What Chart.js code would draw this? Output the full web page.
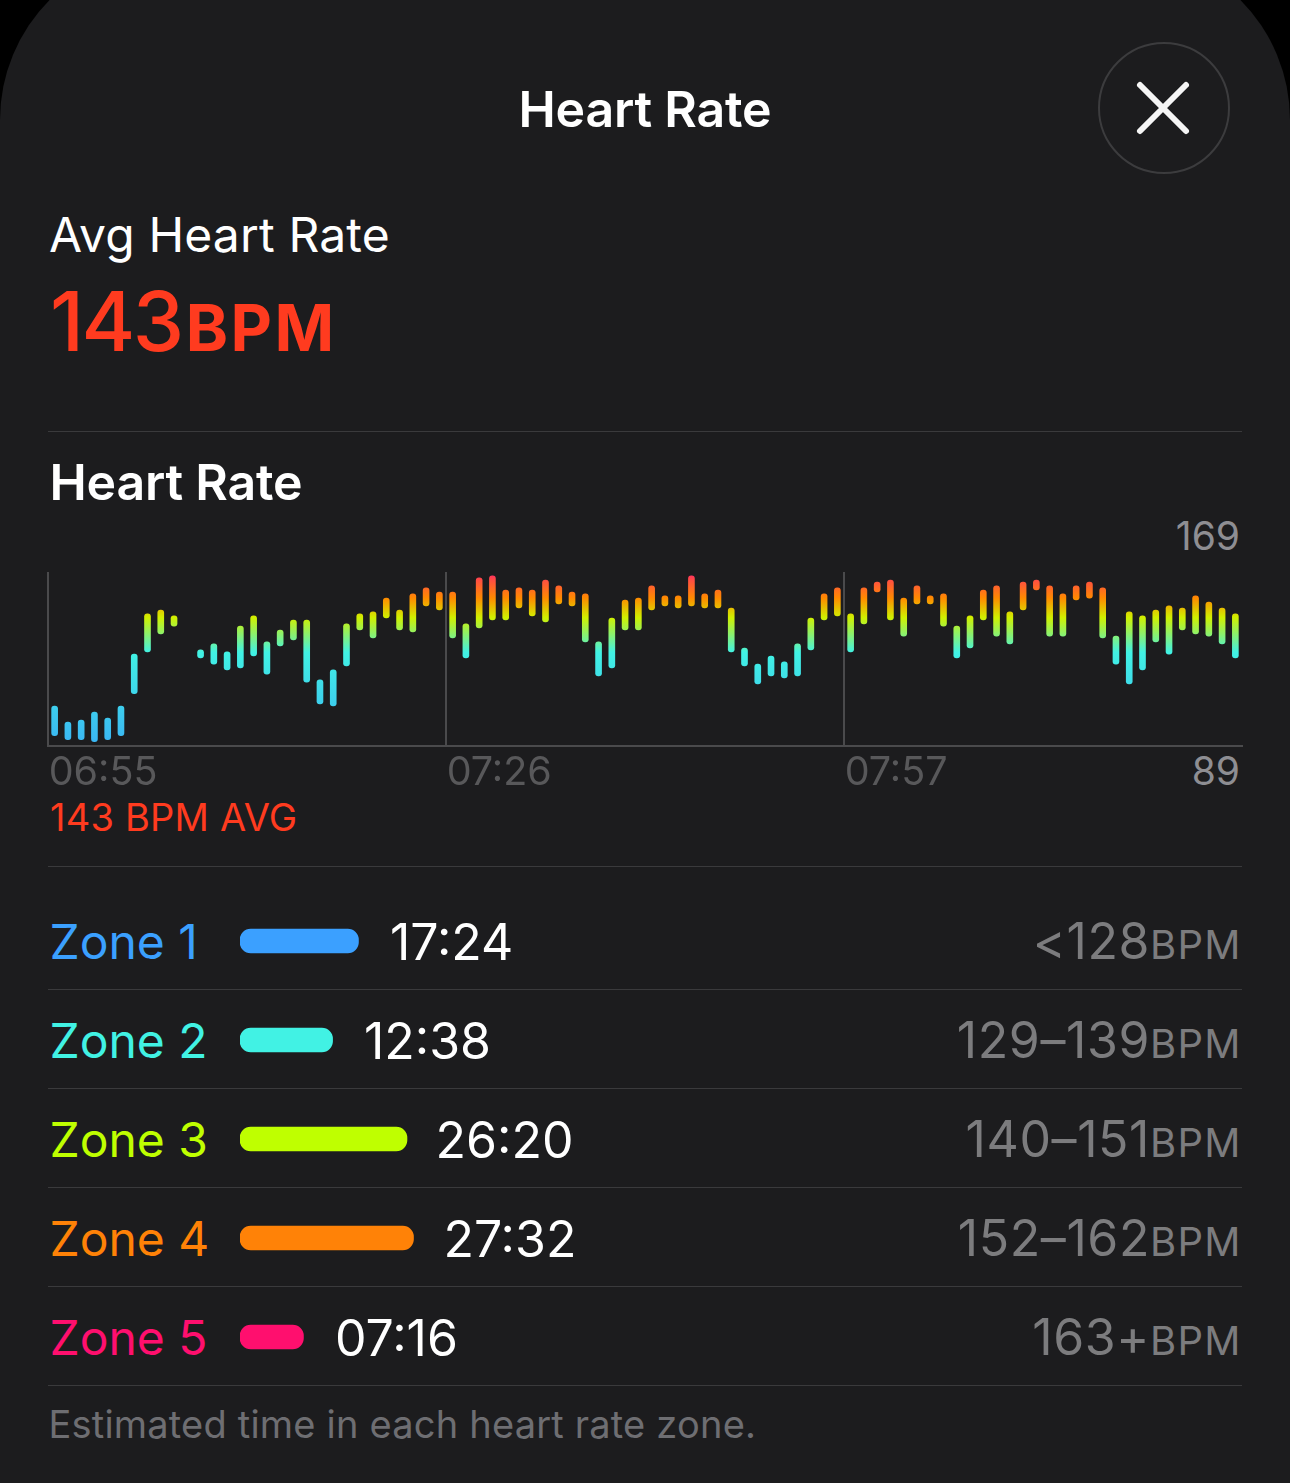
<!DOCTYPE html>
<html><head><meta charset="utf-8">
<script src="https://cdn.jsdelivr.net/npm/chart.js@4"></script>
<style>
html,body{margin:0;padding:0;background:#000;width:1290px;height:1483px;overflow:hidden}
#bg{position:absolute;left:0;top:-50px;width:1290px;height:1533px;background:#1c1c1e;border-radius:170px 170px 0 0}
#card{position:absolute;left:0;top:0;width:1290px;height:1483px;overflow:hidden;font-family:Inter,sans-serif;-webkit-font-smoothing:antialiased}
.t{position:absolute;white-space:nowrap;line-height:1}
.r{position:absolute;left:48px;width:1194px;height:1px;background:#3a3a3c}
canvas{position:absolute}
#close{position:absolute;left:1098px;top:42px;width:128px;height:128px;border:2px solid #3c3c3e;border-radius:50%}
</style></head><body>
<div id="bg"></div>
<div id="card">
<div class="t" style="left:518.5px;top:84px;font-size:50px;font-weight:600;color:#fff;letter-spacing:-.2px">Heart Rate</div>
<div id="close"><svg width="128" height="128" viewBox="0 0 128 128"><path d="M40 41L86 87M86 41L40 87" stroke="#f5f5f5" stroke-width="6" stroke-linecap="round"/></svg></div>
<div class="t" style="left:49px;top:211px;font-size:48px;color:#fff;letter-spacing:.15px">Avg Heart Rate</div>
<div class="t" style="left:50px;top:281px;font-size:82px;font-weight:500;color:#ff3b1f;letter-spacing:-2.5px">143<span style="font-size:64px;font-weight:700;letter-spacing:2.4px;margin-left:4px">BPM</span></div>
<div class="r" style="top:431px"></div>
<div class="t" style="left:49.5px;top:457px;font-size:50px;font-weight:600;color:#fff;letter-spacing:-.2px">Heart Rate</div>
<div class="t" style="right:50px;top:516px;font-size:39px;color:#8e8e93">169</div>
<div class="t" style="right:50px;top:751px;font-size:39px;color:#8e8e93">89</div>
<div class="t" style="left:50px;top:798px;font-size:38px;color:#ff3b1f;letter-spacing:.2px">143 BPM AVG</div>
<div class="r" style="top:866px"></div>
<div id="zones"></div>
<div class="t" style="left:48.5px;top:1405px;font-size:38px;color:#6e6e72;letter-spacing:.2px">Estimated time in each heart rate zone.</div>
<canvas id="hr" style="left:0;top:560px" width="1290" height="240"></canvas>
<canvas id="zc" style="left:0;top:890px" width="1290" height="497"></canvas>
</div>
<script>
const hrHigh=[107.3,99.9,100.8,104.5,101.7,107.3,131.2,149.7,151.5,148.8,null,133.1,135.9,132.2,144.1,148.8,136.8,142.3,146.9,146.9,119.3,123.9,145.1,149.7,150.6,157,151.5,158.9,161.7,159.8,159.8,145.1,166.3,167.2,160.7,161.7,160.7,165.3,162.6,159.8,158.9,136.8,147.8,156.1,157,162.6,158,158,167.2,158.9,160.7,152.4,134,126.6,130.3,127.6,135.9,147.8,158.9,161.7,149.7,161.7,164.4,165.3,157,162.6,158,158.9,144.1,148.8,160.7,162.6,150.6,164.4,165.3,162.6,158.9,162.6,164.4,161.7,139.5,150.6,148.8,151.5,153.4,152.4,158,155.2,152.4,149.7];
const hrLow=[93.6,91.8,91.8,90.8,91.8,93.6,113,132.2,140.5,144.1,null,129.4,126.6,123.9,124.8,130.3,122,134.9,137.7,118.3,108.2,107.3,125.7,142.3,138.6,147.8,142.3,141.4,153.4,151.5,138.6,129.4,143.2,146.9,146.9,152.4,148.8,146,154.3,153.4,136.8,121.1,124.8,142.3,142.3,151.5,153.4,152.4,153.4,152.4,152.4,132.2,125.7,117.4,121.1,120.2,121.1,133.1,146.9,148.8,132.2,145.1,159.8,146.9,139.5,154.3,154.3,144.1,129.4,134,146.9,139.5,135.9,151.5,160.7,139.5,139.5,156.1,157,138.6,126.6,117.4,123.9,136.8,131.2,142.3,140.5,139.5,135.9,129.4];
const timeLabels={0:'06:55',30:'07:26',60:'07:57'};
const yMin=89,yMax=169;
const zoneNames=['Zone 1','Zone 2','Zone 3','Zone 4','Zone 5'];
const zoneTimes=['17:24','12:38','26:20','27:32','07:16'];
const zoneSeconds=[1044,758,1580,1652,436];
const zoneRanges=['<128','129–139','140–151','152–162','163+'];
const zoneColors=['#3ba0ff','#41f2e4','#bfff00','#ff8207','#ff0f6e'];
const gradStops=[[89,'#3ab4f4'],[132,'#41f2e4'],[148,'#d0f000'],[157,'#ff8a00'],[165,'#ff5040'],[169,'#ff2070']];
const timeTextLeft=[390,364,435.5,443.5,335];

Chart.defaults.animation=false;
Chart.defaults.responsive=false;
const hrLabels=hrHigh.map((_,i)=>timeLabels[i]||'');
const axisCol='#4a4a4c';
function grad(ctx){
  const c=ctx.chart,a=c.chartArea,s=c.scales.y;
  if(!a||!s)return '#41f2e4';
  const y0=s.getPixelForValue(yMin),y1=s.getPixelForValue(yMax);
  if(!isFinite(y0)||!isFinite(y1))return '#41f2e4';
  const g=c.ctx.createLinearGradient(0,y0,0,y1);
  gradStops.forEach(([v,col])=>g.addColorStop((v-yMin)/(yMax-yMin),col));
  return g;
}
const hrChart=new Chart(document.getElementById('hr'),{
  type:'bar',
  data:{labels:hrLabels,datasets:[{data:hrHigh.map((h,i)=>h===null?null:[hrLow[i],h]),backgroundColor:grad,barThickness:6,borderRadius:3,borderSkipped:false}]},
  options:{
    devicePixelRatio:1,
    layout:{padding:{left:48,right:48,top:12,bottom:0}},
    plugins:{legend:{display:false},tooltip:{enabled:false}},
    scales:{
      x:{offset:true,border:{color:axisCol,width:2},
        afterFit:s=>{s.height=54.3;},
        grid:{drawTicks:false,color:c=>(c.index in timeLabels)?axisCol:'transparent',lineWidth:2,offset:true},
        ticks:{autoSkip:false,maxRotation:0,minRotation:0,align:'start',padding:4,labelOffset:-6,color:'#58585a',font:{family:'Inter',size:39.5},
          callback:(v,i)=>timeLabels[i]||''}},
      y:{min:yMin,max:yMax,display:false}
    }
  }
});
hrChart.update();
const rows=document.getElementById('zones');
const rowH=99,row0=941;
zoneNames.forEach((n,i)=>{
  const cy=row0+i*rowH;
  rows.insertAdjacentHTML('beforeend',
   `<div class="t" style="left:49.5px;top:${cy-23.5}px;font-size:48px;color:${zoneColors[i]}">${n}</div>`+
   `<div class="t" style="right:48.5px;top:${cy-25}px;font-size:50px;letter-spacing:.6px;color:#7c7c7e">${zoneRanges[i].replace('<','&lt;')}<span style="font-size:40px;letter-spacing:1.2px">BPM</span></div>`+
   `<div class="t" style="left:${timeTextLeft[i]}px;top:${cy-24.5}px;font-size:50px;color:#fff">${zoneTimes[i]}</div>`+
   `<div class="r" style="top:${cy+48}px"></div>`);
});
const zoneBase=-265;
const zc=new Chart(document.getElementById('zc'),{
  type:'bar',
  data:{labels:zoneNames,datasets:[{data:zoneSeconds,base:zoneBase,backgroundColor:zoneColors,barThickness:24,borderRadius:11,borderSkipped:false}]},
  options:{
    indexAxis:'y',devicePixelRatio:1,
    layout:{padding:{left:240,right:0,top:1.5,bottom:0.5}},
    plugins:{legend:{display:false},tooltip:{enabled:false}},
    scales:{
      x:{display:false,min:zoneBase,max:zoneBase+1050/0.0905},
      y:{display:false}
    }
  }
});
</script>
</body></html>
